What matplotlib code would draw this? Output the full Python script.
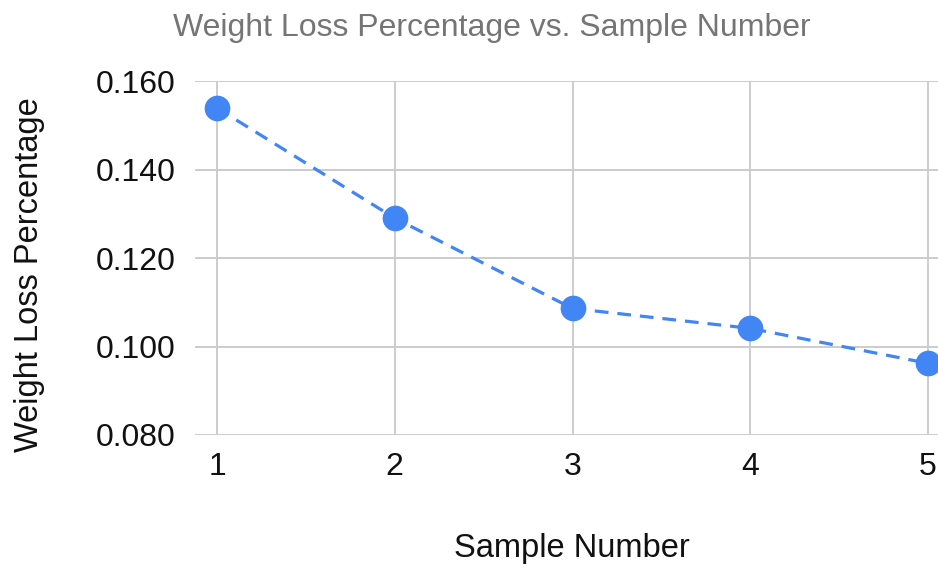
import matplotlib
matplotlib.use("Agg")
import matplotlib.pyplot as plt

plt.rcParams['font.family'] = ['Liberation Sans', 'DejaVu Sans']

samples = [1, 2, 3, 4, 5]
weight_loss = [0.1539, 0.1290, 0.1086, 0.1041, 0.0962]
y_ticks = [0.080, 0.100, 0.120, 0.140, 0.160]

W, H = 938, 569
fig = plt.figure(figsize=(W / 100, H / 100), dpi=100)
ax = fig.add_axes([195 / W, 134 / H, 743 / W, 354 / H])

ax.plot(samples, weight_loss, linestyle=(0, (4.3, 2.8)), color='#4285F4', linewidth=2.3,
        marker='o', markersize=18.5, markerfacecolor='#4285F4', markeredgewidth=0,
        clip_on=False, zorder=3)

ax.set_xlim(1 - 22 / 177.75, 5 + 10 / 177.75)
ax.set_ylim(0.080, 0.160)
ax.set_xticks(samples)
ax.set_yticks(y_ticks)
ax.set_yticklabels([f"{v:.3f}" for v in y_ticks])
ax.grid(True, color='#cccccc', linewidth=1.4)
ax.set_axisbelow(True)
for s in ax.spines.values():
    s.set_visible(False)
ax.tick_params(length=0, labelsize=23, colors='#111111', pad=12)
ax.tick_params(axis='y', pad=14)

fig.text(492 / W, 1 - 28 / H, "Weight Loss Percentage vs. Sample Number",
         ha='center', va='center', fontsize=23, color='#757575')
fig.text(572 / W, 1 - 549 / H, "Sample Number", ha='center', va='center',
         fontsize=23.5, color='#111111')
fig.text(30 / W, 1 - 275 / H, "Weight Loss Percentage", ha='center', va='center',
         rotation=90, fontsize=23.5, color='#111111')

fig.savefig("out.png", dpi=100)
